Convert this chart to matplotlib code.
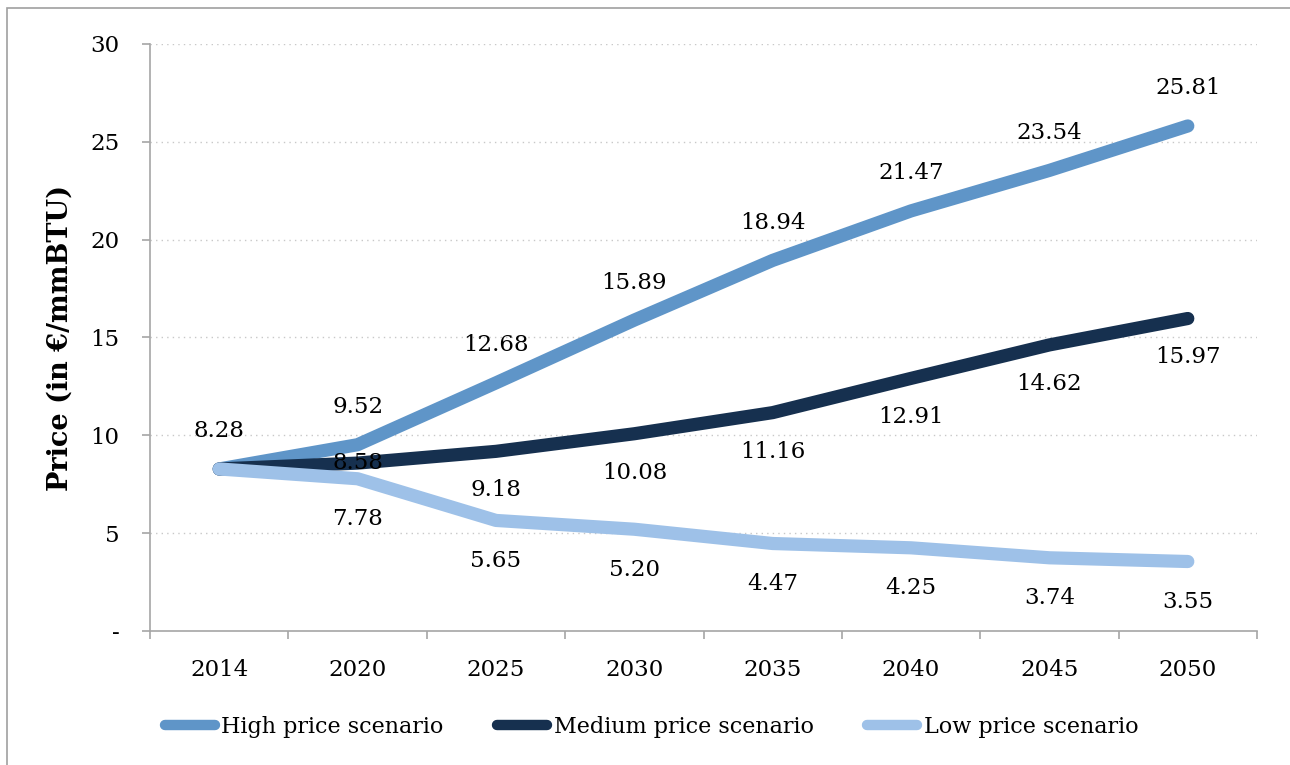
import matplotlib
matplotlib.use("Agg")
import matplotlib.pyplot as plt
from matplotlib.lines import Line2D
from matplotlib.patches import Rectangle

plt.rcParams.update({
    "font.family": "DejaVu Serif",
    "font.size": 16.5,
})

years = ["2014", "2020", "2025", "2030", "2035", "2040", "2045", "2050"]
high = [8.28, 9.52, 12.68, 15.89, 18.94, 21.47, 23.54, 25.81]
medium = [8.28, 8.58, 9.18, 10.08, 11.16, 12.91, 14.62, 15.97]
low = [8.28, 7.78, 5.65, 5.20, 4.47, 4.25, 3.74, 3.55]
yticks = [0, 5, 10, 15, 20, 25, 30]
ytick_labels = ["-", "5", "10", "15", "20", "25", "30"]

C_HIGH = "#5f95c8"
C_MED = "#16304f"
C_LOW = "#9ec1e8"
C_AXIS = "#a6a6a6"
LW = 9.5
FS = 16.5

fig = plt.figure(figsize=(12.9, 7.65), dpi=100)
ax = fig.add_axes([0.1163, 0.1752, 0.8581, 0.7673])

# outer chart frame
fig.patches.append(Rectangle((0.0055, -0.01), 0.995, 1.0, transform=fig.transFigure,
                             fill=False, edgecolor="#a0a0a0", linewidth=1.2))

x = list(range(len(years)))
series = [("High price scenario", high, C_HIGH),
          ("Medium price scenario", medium, C_MED),
          ("Low price scenario", low, C_LOW)]

# later series drawn on top
for k, (name, vals, col) in enumerate(series):
    ax.plot(x, vals, color=col, lw=LW, solid_capstyle="round",
            solid_joinstyle="round", zorder=3 + k)

# value labels: high above, medium below, low below
for i, v in enumerate(high):
    ax.annotate(f"{v:.2f}", (i, v), xytext=(0, 27), textcoords="offset points",
                ha="center", va="center", fontsize=FS)
for i, v in enumerate(medium):
    if i == 0:
        continue
    dy = 0 if i == 1 else -28
    ax.annotate(f"{v:.2f}", (i, v), xytext=(0, dy), textcoords="offset points",
                ha="center", va="center", fontsize=FS, zorder=8)
for i, v in enumerate(low):
    if i == 0:
        continue
    ax.annotate(f"{v:.2f}", (i, v), xytext=(0, -29), textcoords="offset points",
                ha="center", va="center", fontsize=FS)

ax.set_xlim(-0.5, len(years) - 0.5)
ax.set_ylim(0, 30)
ax.set_yticks(yticks)
ax.set_yticklabels(ytick_labels)
ax.set_xticks(x)
ax.set_xticklabels(years)
ax.set_xticks([i - 0.5 for i in range(len(years) + 1)], minor=True)
ax.tick_params(axis="x", which="major", length=0, pad=20)
ax.tick_params(axis="x", which="minor", length=6, color=C_AXIS, width=1.2)
ax.tick_params(axis="y", length=6, color=C_AXIS, width=1.2, pad=16)

for s in ["top", "right"]:
    ax.spines[s].set_visible(False)
for s in ["left", "bottom"]:
    ax.spines[s].set_color(C_AXIS)
    ax.spines[s].set_linewidth(1.2)

for yv in yticks[1:]:
    ax.axhline(yv, color="#c8c8c8", lw=1, ls=(0, (1, 3)), zorder=1)

ax.set_ylabel("Price (in €/mmBTU)", fontsize=19.5, fontweight="bold", labelpad=12)

handles = [Line2D([0], [0], color=c, lw=7.5, solid_capstyle="round") for _, _, c in series]
fig.legend(handles, [n for n, _, _ in series], loc="center", ncol=3,
           bbox_to_anchor=(0.505, 0.05), frameon=False, fontsize=16,
           handlelength=2.25, handletextpad=0.3, columnspacing=2.4)

fig.savefig("out.png", dpi=100, facecolor="white")
